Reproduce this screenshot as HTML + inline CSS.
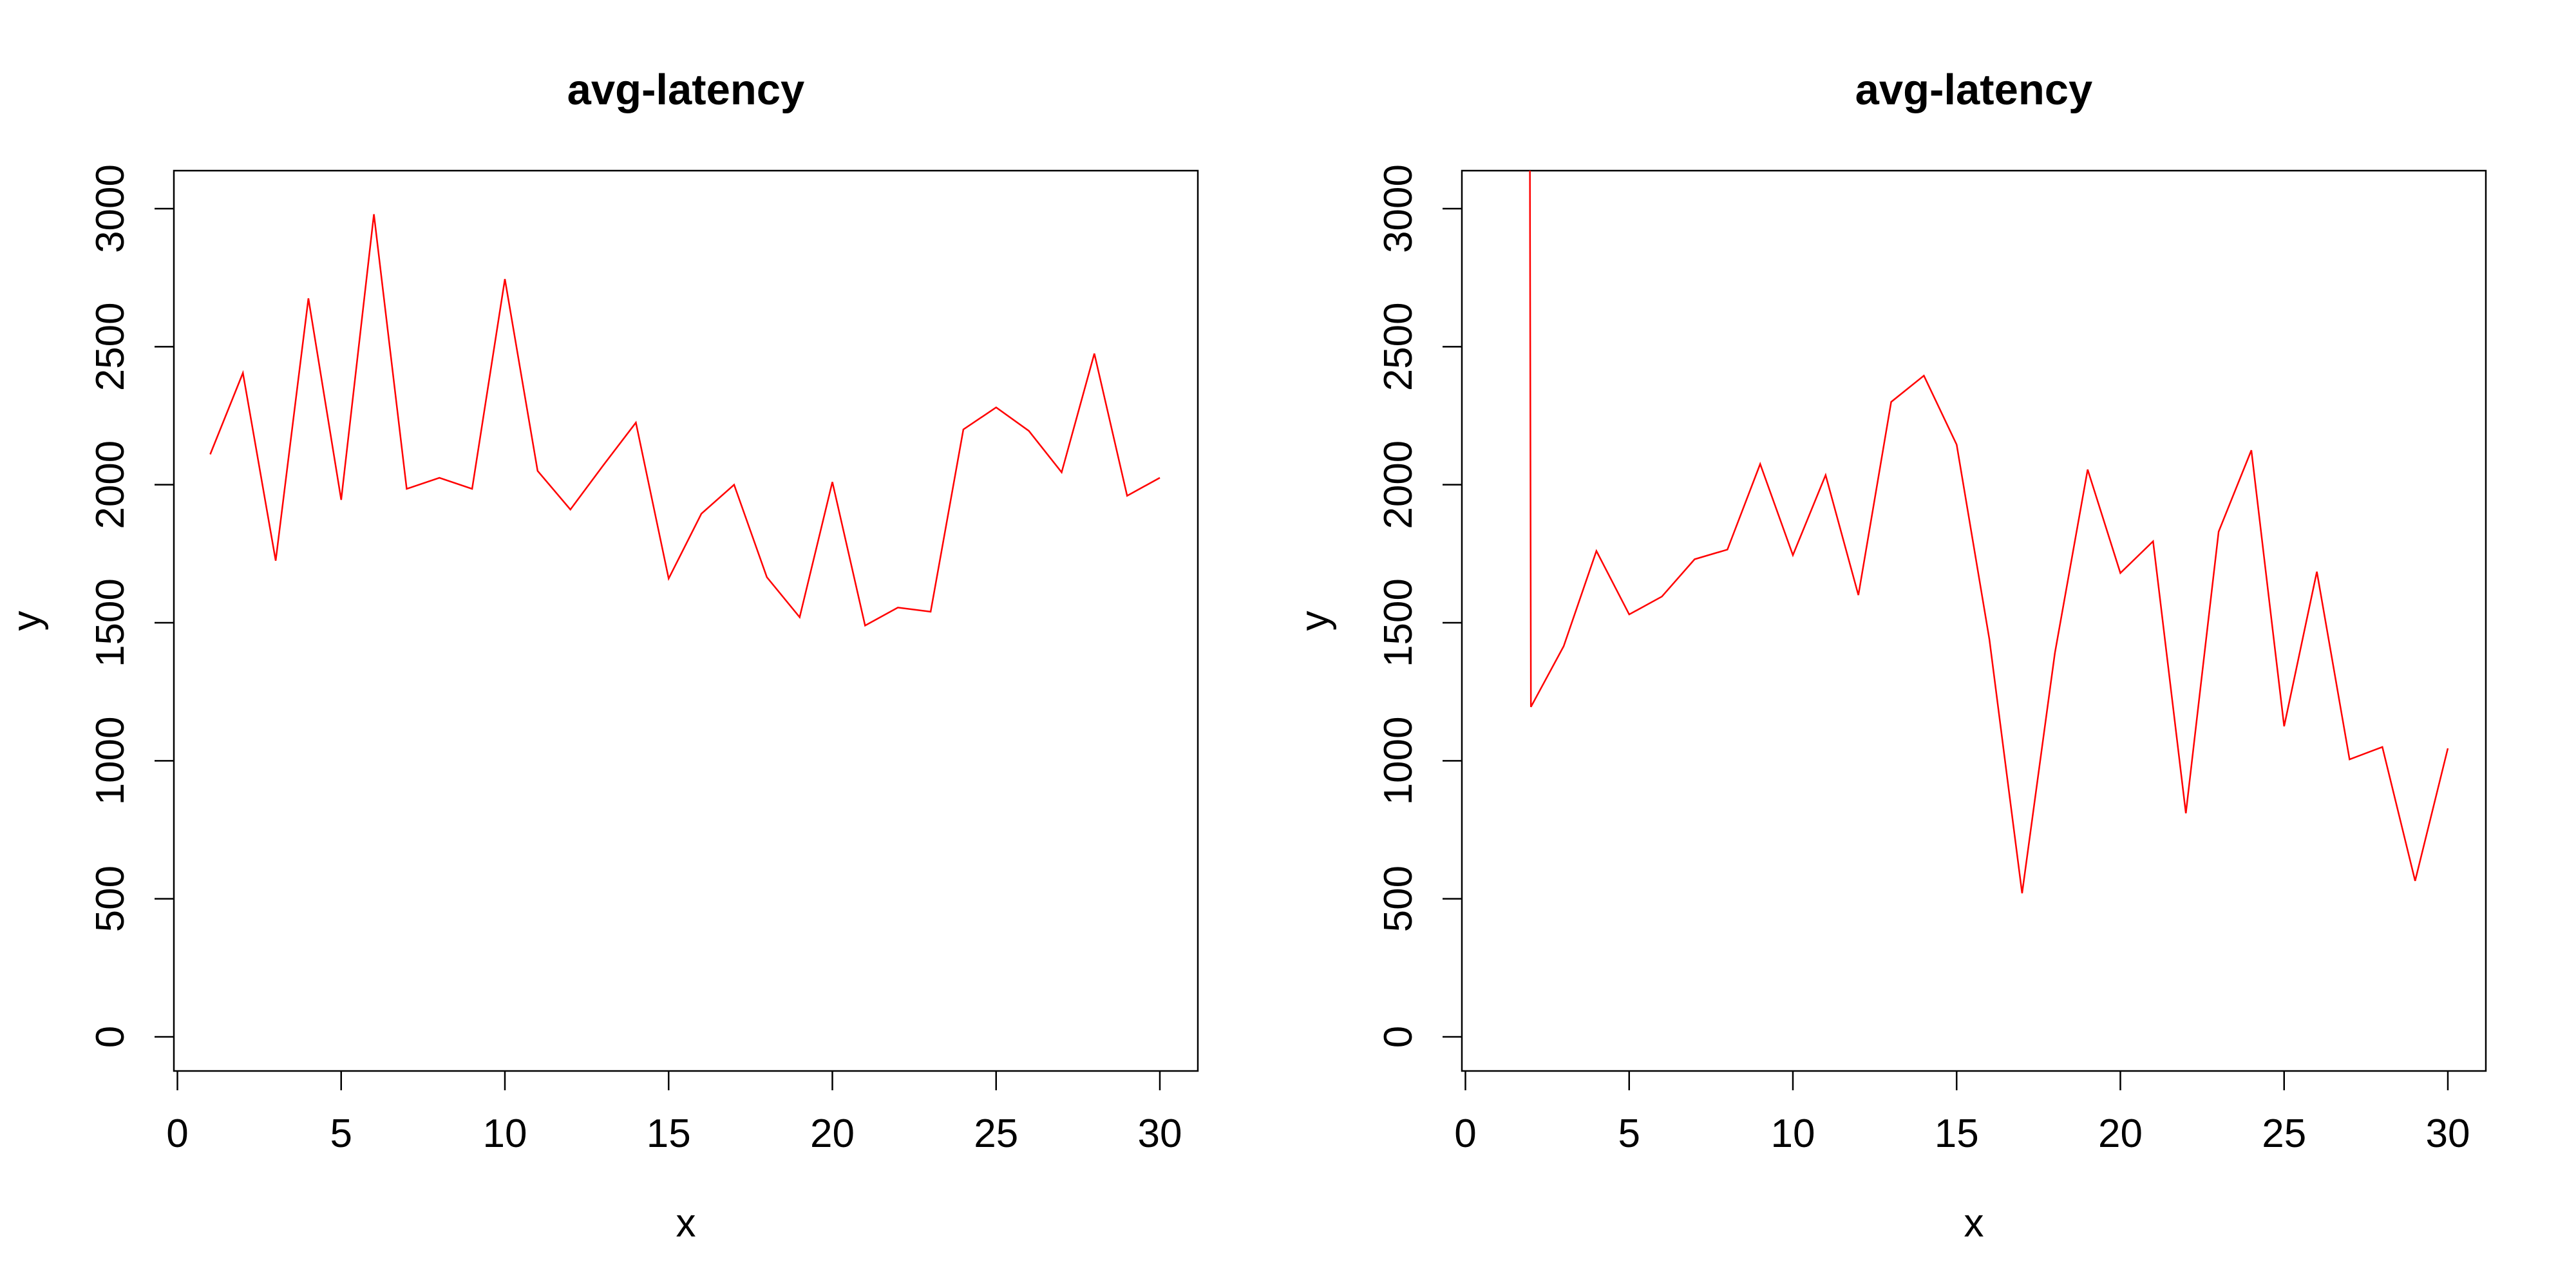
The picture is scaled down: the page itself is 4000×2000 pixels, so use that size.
<!DOCTYPE html>
<html><head><meta charset="utf-8"><style>
html,body{margin:0;padding:0;background:#fff;}
svg{display:block;font-family:"Liberation Sans",Arial,sans-serif;}
</style></head><body>
<svg id="c" width="4000" height="2000" viewBox="0 0 4000 2000"></svg>
<script>
const xs = [1,2,3,4,5,6,7,8,9,10,11,12,13,14,15,16,17,18,19,20,21,22,23,24,25,26,27,28,29,30];
const leftValues = [2110,2405,1725,2675,1945,2980,1985,2025,1985,2745,2050,1910,2070,2225,1660,1895,2000,1665,1520,2010,1490,1555,1540,2200,2280,2195,2045,2475,1960,2025];
const rightValues = [65000,1195,1415,1760,1530,1595,1730,1765,2075,1745,2035,1600,2300,2395,2145,1440,520,1390,2055,1680,1795,810,1830,2125,1125,1685,1005,1050,565,1045];
const xTicks = [0,5,10,15,20,25,30];
const yTicks = [0,500,1000,1500,2000,2500,3000];
const titles = ["avg-latency","avg-latency"];

const NS="http://www.w3.org/2000/svg";
const svg=document.getElementById('c');
function mk(t,a,p){const e=document.createElementNS(NS,t);for(const k in a)e.setAttribute(k,a[k]);(p||svg).appendChild(e);return e;}

function panel(idx,offset,vals){
  const L=270+offset,R=1860+offset,T=265,B=1663;
  const xS=v=>275.5+offset+(v/30)*(1801-275.5);
  const yS=v=>1610-(v/3000)*(1610-324);
  const g=mk('g',{});
  
  
  const cp=mk('clipPath',{id:'clip'+idx},g);
  mk('rect',{x:L,y:T,width:R-L,height:B-T},cp);
  const box=mk('rect',{x:L,y:T,width:R-L,height:B-T,fill:'none',stroke:'#000','stroke-width':2.5},g);
  
  
  const title=mk('text',{x:(L+R)/2,y:162,'text-anchor':'middle','font-size':67,'font-weight':'bold'},g);
  title.textContent=titles[idx];
  
  
  xTicks.forEach(t=>{
    const x=xS(t);
    const tk=mk('line',{x1:x,x2:x,y1:B,y2:B+30,stroke:'#000','stroke-width':2.5},g);
    
    
    const lb=mk('text',{x:x,y:B+118,'text-anchor':'middle','font-size':62},g);
    lb.textContent=t;
    
    
  });
  yTicks.forEach(t=>{
    const y=yS(t);
    const tk=mk('line',{x1:L-30,x2:L,y1:y,y2:y,stroke:'#000','stroke-width':2.5},g);
    
    
    const lb=mk('text',{x:0,y:0,'text-anchor':'middle','font-size':62,transform:`translate(${L-78},${y}) rotate(-90)`},g);
    lb.textContent=t;
    
    
  });
  const xl=mk('text',{x:(L+R)/2,y:1920,'text-anchor':'middle','font-size':62},g);
  xl.textContent='x';
  
  
  const yl=mk('text',{x:0,y:0,'text-anchor':'middle','font-size':62,transform:`translate(${offset+62},${(T+B)/2}) rotate(-90)`},g);
  yl.textContent='y';
  
  
  const pts=xs.map((x,i)=>xS(x).toFixed(1)+','+yS(vals[i]).toFixed(1)).join(' ');
  const line=mk('polyline',{points:pts,fill:'none',stroke:'#ff0000','stroke-width':2.5,'clip-path':`url(#clip${idx})`},g);
  
  
}
panel(0,0,leftValues);
panel(1,2000,rightValues);
</script>
</body></html>
